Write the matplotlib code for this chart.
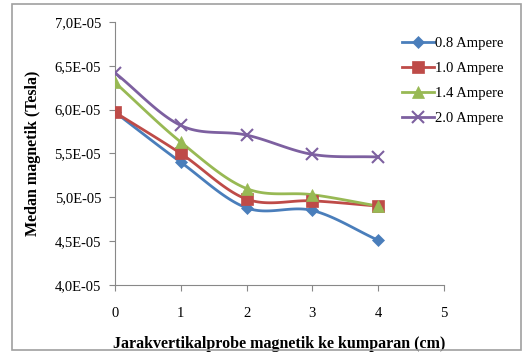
import matplotlib

matplotlib.use("Agg")
import matplotlib.pyplot as plt  # noqa: E402
import numpy as np
from matplotlib.lines import Line2D
from matplotlib.patches import Rectangle

# distance probe - coil (cm)
jarak = [0, 1, 2, 3, 4]

# magnetic field (Tesla) for each current
b_08 = [5.97e-5, 5.40e-5, 4.88e-5, 4.85e-5, 4.51e-5]
b_10 = [5.97e-5, 5.50e-5, 4.98e-5, 4.96e-5, 4.90e-5]
b_14 = [6.31e-5, 5.63e-5, 5.10e-5, 5.03e-5, 4.90e-5]
b_20 = [6.42e-5, 5.82e-5, 5.71e-5, 5.49e-5, 5.46e-5]

labels = ["0.8 Ampere", "1.0 Ampere", "1.4 Ampere", "2.0 Ampere"]
colors = ["#4A7EBB", "#BE4B48", "#98B954", "#7D60A0"]
markers = ["D", "s", "^", "x"]
msizes = [6.5, 9, 8.5, 9]

yticks = [4.0e-5, 4.5e-5, 5.0e-5, 5.5e-5, 6.0e-5, 6.5e-5, 7.0e-5]
ytick_labels = ["4,0E-05", "4,5E-05", "5,0E-05", "5,5E-05", "6,0E-05", "6,5E-05", "7,0E-05"]


def smooth(x, y, n=30):
    # Catmull-Rom curve through the points, like Excel's smoothed line
    x = np.asarray(x, float)
    y = np.asarray(y, float)
    px = np.concatenate([[2 * x[0] - x[1]], x, [2 * x[-1] - x[-2]]])
    py = np.concatenate([[2 * y[0] - y[1]], y, [2 * y[-1] - y[-2]]])
    xs, ys = [], []
    t = np.linspace(0, 1, n)
    for i in range(1, len(px) - 2):
        for p, out in ((px, xs), (py, ys)):
            p0, p1, p2, p3 = p[i - 1], p[i], p[i + 1], p[i + 2]
            out.extend(0.5 * (2 * p1 + (-p0 + p2) * t
                              + (2 * p0 - 5 * p1 + 4 * p2 - p3) * t ** 2
                              + (-p0 + 3 * p1 - 3 * p2 + p3) * t ** 3))
    return np.array(xs), np.array(ys)


plt.rcParams["font.family"] = ["Liberation Serif", "DejaVu Serif"]

fig = plt.figure(figsize=(5.22, 3.52), dpi=100)
W, H = 522, 352
ax = fig.add_axes([115 / W, 1 - 285 / H, (444 - 115) / W, (285 - 22) / H])

fig.patches.append(Rectangle((12 / W, 2 / H), 509 / W, 346 / H, transform=fig.transFigure,
                             fill=False, edgecolor="#a0a0a0", linewidth=1.2))

handles = []
for ys, lab, c, m, ms in zip([b_08, b_10, b_14, b_20], labels, colors, markers, msizes):
    sx, sy = smooth(jarak, ys)
    ax.plot(sx, sy, color=c, linewidth=2.0, zorder=2)
    ax.plot(jarak, ys, linestyle="none", marker=m, markersize=ms, color=c,
            markeredgewidth=1.5 if m == "x" else 0.5, zorder=3)
    handles.append(Line2D([], [], color=c, linewidth=2.0, marker=m, markersize=ms,
                          markeredgewidth=1.5 if m == "x" else 0.5, label=lab))

ax.set_xlim(0, 5)
ax.set_ylim(4.0e-5, 7.0e-5)
ax.set_xticks([0, 1, 2, 3, 4, 5])
ax.set_yticks(yticks)
ax.set_yticklabels(ytick_labels)
ax.tick_params(axis="both", labelsize=10.5, color="#888888", length=4, width=0.8)
ax.tick_params(axis="x", pad=12)
ax.tick_params(axis="y", pad=6)
for side in ("top", "right"):
    ax.spines[side].set_visible(False)
for side in ("left", "bottom"):
    ax.spines[side].set_color("#888888")
    ax.spines[side].set_linewidth(0.8)

ax.set_xlabel("Jarakvertikalprobe magnetik ke kumparan (cm)", fontsize=11.5,
              fontweight="bold", labelpad=11)
ax.set_ylabel("Medan magnetik (Tesla)", fontsize=11.5, fontweight="bold", labelpad=10)

fig.legend(handles=handles, loc="upper left", bbox_to_anchor=(396 / W, 1 - 31 / H),
           frameon=False, fontsize=10.5, handlelength=2.2, handletextpad=0.1,
           labelspacing=0.8, borderaxespad=0)

fig.savefig("out.png", dpi=100)
